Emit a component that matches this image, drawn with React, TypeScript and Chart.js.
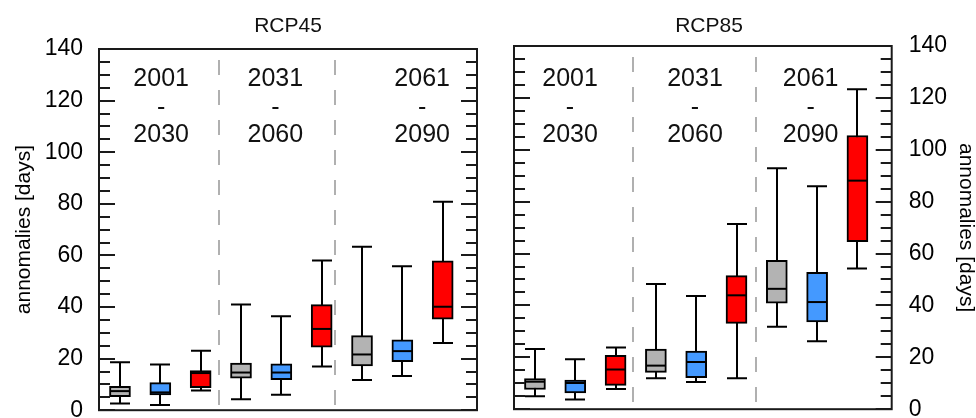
import React, { useEffect, useRef } from "react";
import { Chart, registerables } from "chart.js";

Chart.register(...registerables);

const FONT = "'Liberation Sans', Arial, Helvetica, sans-serif";

// Box positions (three colours per period, three periods)
const positions = [1, 2, 3, 4, 5, 6, 7, 8, 9];
const boxColors = [
  "#b3b3b3", "#4499ff", "#ff0000",
  "#b3b3b3", "#4499ff", "#ff0000",
  "#b3b3b3", "#4499ff", "#ff0000",
];
const periodLabels = [
  ["2001", "-", "2030"],
  ["2031", "-", "2060"],
  ["2061", "-", "2090"],
];
const yAxisTitle = "annomalies [days]";
const yMin = 0;
const yMax = 140;
const yStep = 20;

// RCP45
const rcp45Low = [2.6, 2.0, 7.6, 4.2, 6.0, 16.9, 11.7, 13.3, 26.0];
const rcp45Q1 = [5.2, 5.9, 8.7, 12.4, 11.8, 24.4, 17.2, 18.8, 35.3];
const rcp45Median = [7.4, 6.9, 14.4, 14.6, 14.6, 31.5, 21.6, 22.9, 40.1];
const rcp45Q3 = [9.3, 10.7, 15.4, 18.3, 18.0, 40.9, 28.9, 27.3, 57.9];
const rcp45High = [18.6, 17.7, 23.0, 41.0, 36.4, 58.0, 63.4, 55.8, 80.8];

// RCP85
const rcp85Low = [5.0, 3.7, 7.8, 11.9, 10.5, 11.9, 31.8, 26.2, 54.2];
const rcp85Q1 = [7.6, 6.3, 9.2, 14.2, 12.2, 33.1, 40.9, 33.6, 64.6];
const rcp85Median = [10.6, 10.1, 15.3, 16.8, 18.2, 43.9, 46.4, 41.3, 88.1];
const rcp85Q3 = [11.8, 11.2, 20.8, 23.2, 22.4, 51.5, 57.4, 52.8, 105.5];
const rcp85High = [23.2, 19.3, 23.8, 48.3, 43.6, 71.4, 92.9, 85.9, 123.3];

type PanelCfg = {
  name: string;
  title: string;
  titleX: number;
  low: number[];
  q1: number[];
  median: number[];
  q3: number[];
  high: number[];
  dividers: number[];
  periodX: number[];
  side: "left" | "right";
  canvasLeft: number;
  width: number;
  padding: { left: number; right: number; top: number; bottom: number };
  axisWidth: number;
  tickPadding: number;
  titlePad: number;
  titleLineHeight: number;
};

const panels: PanelCfg[] = [
  {
    name: "rcp45",
    title: "RCP45",
    titleX: 288,
    low: rcp45Low,
    q1: rcp45Q1,
    median: rcp45Median,
    q3: rcp45Q3,
    high: rcp45High,
    dividers: [3.454, 6.33],
    periodX: [2.02, 4.85, 8.49],
    side: "left",
    canvasLeft: 0,
    width: 490,
    padding: { left: 0, right: 13, top: 49, bottom: 28.5 },
    axisWidth: 99,
    tickPadding: 16,
    titlePad: 12,
    titleLineHeight: 1.2,
  },
  {
    name: "rcp85",
    title: "RCP85",
    titleX: 219,
    low: rcp85Low,
    q1: rcp85Q1,
    median: rcp85Median,
    q3: rcp85Q3,
    high: rcp85High,
    dividers: [3.437, 6.495],
    periodX: [1.87, 4.97, 7.84],
    side: "right",
    canvasLeft: 490,
    width: 486,
    padding: { left: 24, right: 0, top: 46, bottom: 30 },
    axisWidth: 84.3,
    tickPadding: 17,
    titlePad: 0,
    titleLineHeight: 1.0,
  },
];

const HEIGHT = 440;

function makePlugin(cfg: PanelCfg) {
  return {
    id: "boxpanel_" + cfg.name,
    beforeDatasetsDraw(chart: any) {
      const { ctx, chartArea: a, scales } = chart;
      const x = scales.x;
      const y = scales.y;
      ctx.save();
      // dashed period dividers
      ctx.strokeStyle = "#b0b0b0";
      ctx.lineWidth = 2;
      ctx.setLineDash([15, 15]);
      cfg.dividers.forEach((v) => {
        const px = Math.round(x.getPixelForValue(v));
        ctx.beginPath();
        ctx.moveTo(px, a.top + 11);
        ctx.lineTo(px, a.bottom + 6);
        ctx.stroke();
      });
      ctx.setLineDash([]);
      // whiskers
      ctx.strokeStyle = "#000";
      ctx.lineWidth = 2;
      positions.forEach((p, i) => {
        const px = Math.round(x.getPixelForValue(p));
        const yl = y.getPixelForValue(cfg.low[i]);
        const yh = y.getPixelForValue(cfg.high[i]);
        ctx.beginPath();
        ctx.moveTo(px, yl);
        ctx.lineTo(px, yh);
        ctx.moveTo(px - 10, yl);
        ctx.lineTo(px + 10, yl);
        ctx.moveTo(px - 10, yh);
        ctx.lineTo(px + 10, yh);
        ctx.stroke();
      });
      ctx.restore();
    },
    afterDatasetsDraw(chart: any) {
      const { ctx, chartArea: a, scales } = chart;
      const x = scales.x;
      const y = scales.y;
      ctx.save();
      // medians
      ctx.strokeStyle = "#000";
      ctx.lineWidth = 2;
      positions.forEach((p, i) => {
        const px = Math.round(x.getPixelForValue(p));
        const ym = y.getPixelForValue(cfg.median[i]);
        ctx.beginPath();
        ctx.moveTo(px - 10, ym);
        ctx.lineTo(px + 10, ym);
        ctx.stroke();
      });
      // frame
      ctx.strokeStyle = "#1a1a1a";
      ctx.lineWidth = 2;
      ctx.strokeRect(a.left, a.top, a.right - a.left, a.bottom - a.top);
      // inward ticks
      ctx.lineWidth = 2;
      for (let v = yMin; v <= yMax; v += 5) {
        const py = Math.round(y.getPixelForValue(v));
        const len = v % yStep === 0 ? 16 : 11;
        ctx.beginPath();
        ctx.moveTo(a.left, py);
        ctx.lineTo(a.left + len, py);
        ctx.moveTo(a.right - len, py);
        ctx.lineTo(a.right, py);
        ctx.stroke();
      }
      // period labels
      ctx.fillStyle = "#111";
      ctx.font = `25px ${FONT}`;
      ctx.textAlign = "center";
      ctx.textBaseline = "middle";
      const rowsY = [79, 108, 135];
      periodLabels.forEach((lines, k) => {
        const px = x.getPixelForValue(cfg.periodX[k]);
        lines.forEach((t, r) => ctx.fillText(t, px, rowsY[r]));
      });
      // panel title
      ctx.font = `21px ${FONT}`;
      ctx.fillText(cfg.title, cfg.titleX, 26);
      ctx.restore();
    },
  };
}

function BoxPanel({ cfg }: { cfg: PanelCfg }) {
  const ref = useRef<HTMLCanvasElement | null>(null);
  useEffect(() => {
    if (!ref.current) return;
    const chart = new Chart(ref.current, {
      type: "bar",
      data: {
        datasets: [
          {
            data: positions.map((p, i) => ({ x: p, y: [cfg.q1[i], cfg.q3[i]] })) as any,
            backgroundColor: boxColors,
            borderColor: "#000",
            borderWidth: 2,
            borderSkipped: false,
            barThickness: 21,
          } as any,
        ],
      },
      options: {
        responsive: false,
        animation: false,
        devicePixelRatio: 1,
        layout: { padding: cfg.padding },
        plugins: {
          legend: { display: false },
          tooltip: { enabled: false },
          title: { display: false },
        },
        scales: {
          x: { type: "linear", min: 0.48, max: 9.85, offset: false, display: false },
          y: {
            type: "linear",
            position: cfg.side,
            min: yMin,
            max: yMax,
            afterFit: (s: any) => {
              s.width = cfg.axisWidth;
            },
            grid: { display: false, drawTicks: false },
            border: { display: false },
            ticks: {
              stepSize: yStep,
              padding: cfg.tickPadding,
              color: "#000",
              font: { family: FONT, size: 23 },
            },
            title: {
              display: true,
              text: yAxisTitle,
              color: "#000",
              font: { family: FONT, size: 21, lineHeight: cfg.titleLineHeight },
              padding: { top: cfg.titlePad, bottom: 0 },
            },
          },
        } as any,
      },
      plugins: [makePlugin(cfg)],
    });
    return () => chart.destroy();
  }, [cfg]);
  return (
    <canvas
      ref={ref}
      width={cfg.width}
      height={HEIGHT}
      style={{ position: "absolute", left: cfg.canvasLeft, top: 0, width: cfg.width, height: HEIGHT }}
    />
  );
}

export default function App() {
  return (
    <div
      style={{
        position: "absolute",
        left: 0,
        top: 0,
        width: 976,
        height: 418,
        overflow: "hidden",
        background: "#fff",
      }}
    >
      {panels.map((p) => (
        <BoxPanel key={p.name} cfg={p} />
      ))}
    </div>
  );
}
